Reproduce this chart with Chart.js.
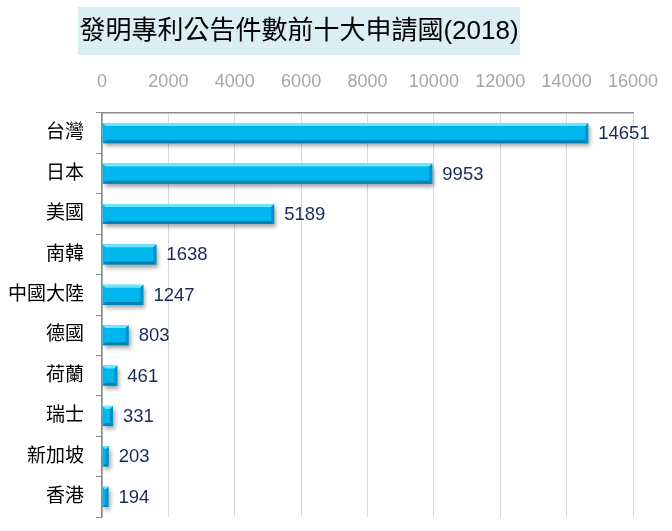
<!DOCTYPE html>
<html>
<head>
<meta charset="utf-8">
<script src="https://cdn.jsdelivr.net/npm/chart.js@4"></script>
<style>
  html, body { margin: 0; padding: 0; background: #fff; }
  #wrap { width: 672px; height: 531px; position: relative; }
</style>
</head>
<body>
<div id="wrap"><canvas id="patentChart"></canvas></div>
<script>
const chartTitle = '發明專利公告件數前十大申請國(2018)';
const countries = ['台灣', '日本', '美國', '南韓', '中國大陸', '德國', '荷蘭', '瑞士', '新加坡', '香港'];
const patentCounts = [14651, 9953, 5189, 1638, 1247, 803, 461, 331, 203, 194];
const axisMax = 16000;
const axisStep = 2000;

const fontFamily = "'Liberation Sans', 'Noto Sans CJK TC', sans-serif";

// light blue box behind the title
const titleBoxPlugin = {
    id: 'titleBox',
    beforeDraw(chart) {
        const ctx = chart.ctx;
        ctx.save();
        ctx.fillStyle = '#daeef3';
        ctx.fillRect(78, 7, 442, 48);
        ctx.fillStyle = '#000';
        ctx.font = '26px ' + fontFamily;
        ctx.textAlign = 'center';
        ctx.textBaseline = 'middle';
        ctx.fillText(chartTitle, 299, 32);
        ctx.restore();
    }
};

// drop shadow under the bars
const barShadowPlugin = {
    id: 'barShadow',
    beforeDatasetDraw(chart) {
        const ctx = chart.ctx;
        ctx.save();
        ctx.shadowColor = 'rgba(0, 0, 0, 0.35)';
        ctx.shadowBlur = 4;
        ctx.shadowOffsetX = 2;
        ctx.shadowOffsetY = 3;
    },
    afterDatasetDraw(chart) {
        chart.ctx.restore();
    }
};

// bevel highlights and value labels
const barLabelPlugin = {
    id: 'barLabels',
    afterDatasetsDraw(chart) {
        const ctx = chart.ctx;
        const meta = chart.getDatasetMeta(0);
        ctx.save();
        meta.data.forEach((bar, i) => {
            const left = bar.base;
            const right = bar.x;
            const top = bar.y - bar.height / 2;
            const bottom = bar.y + bar.height / 2;
            const b = 3;
            // top bevel
            ctx.fillStyle = 'rgba(120, 235, 255, 0.9)';
            ctx.beginPath();
            ctx.moveTo(left, top);
            ctx.lineTo(right, top);
            ctx.lineTo(right - b, top + b);
            ctx.lineTo(left + b, top + b);
            ctx.closePath();
            ctx.fill();
            // bottom bevel
            ctx.fillStyle = 'rgba(0, 110, 160, 0.75)';
            ctx.beginPath();
            ctx.moveTo(left, bottom);
            ctx.lineTo(right, bottom);
            ctx.lineTo(right - b, bottom - b);
            ctx.lineTo(left + b, bottom - b);
            ctx.closePath();
            ctx.fill();
            // right bevel
            ctx.fillStyle = 'rgba(0, 130, 185, 0.7)';
            ctx.beginPath();
            ctx.moveTo(right, top);
            ctx.lineTo(right, bottom);
            ctx.lineTo(right - b, bottom - b);
            ctx.lineTo(right - b, top + b);
            ctx.closePath();
            ctx.fill();

            ctx.fillStyle = '#162a5c';
            ctx.font = '18.5px ' + fontFamily;
            ctx.textAlign = 'left';
            ctx.textBaseline = 'middle';
            ctx.fillText(String(patentCounts[i]), right + 10, bar.y + 1);
        });
        ctx.restore();
    }
};

function barGradient(context) {
    const chart = context.chart;
    const el = context.element;
    if (!chart.chartArea || !el || !el.height) return '#00b6ee';
    const top = el.y - el.height / 2;
    const g = chart.ctx.createLinearGradient(0, top, 0, top + el.height);
    g.addColorStop(0, '#3ad6fb');
    g.addColorStop(0.35, '#0cc4f4');
    g.addColorStop(0.75, '#00b0ea');
    g.addColorStop(1, '#0093cc');
    return g;
}

const ctxBar = document.getElementById('patentChart');
new Chart(ctxBar, {
    type: 'bar',
    data: {
        labels: countries,
        datasets: [{
            data: patentCounts,
            backgroundColor: barGradient,
            borderWidth: 0,
            barPercentage: 0.5,
            categoryPercentage: 1
        }]
    },
    options: {
        indexAxis: 'y',
        responsive: true,
        maintainAspectRatio: false,
        animation: false,
        layout: {
            padding: { top: 57, right: 39, bottom: 14, left: 0 }
        },
        plugins: {
            legend: { display: false },
            tooltip: { enabled: false }
        },
        scales: {
            x: {
                position: 'top',
                min: 0,
                max: axisMax,
                afterFit: (scale) => {
                    scale.height = 56;
                    scale.paddingLeft = 0;
                    scale.paddingRight = 0;
                },
                ticks: {
                    stepSize: axisStep,
                    color: '#a6a6a6',
                    font: { family: fontFamily, size: 18 },
                    padding: 20,
                    maxRotation: 0,
                    callback: (value) => String(value)
                },
                grid: {
                    color: '#d9d9d9',
                    drawTicks: false
                },
                border: { color: '#888', width: 1.5 }
            },
            y: {
                afterFit: (scale) => {
                    scale.width = 102;
                    scale.paddingTop = 0;
                    scale.paddingBottom = 0;
                },
                ticks: {
                    color: '#000',
                    font: { family: fontFamily, size: 19 },
                    padding: 12
                },
                grid: {
                    display: true,
                    drawOnChartArea: false,
                    offset: true,
                    tickLength: 6,
                    color: '#888'
                },
                border: { color: '#888', width: 1.5 }
            }
        }
    },
    plugins: [titleBoxPlugin, barShadowPlugin, barLabelPlugin]
});
</script>
</body>
</html>
